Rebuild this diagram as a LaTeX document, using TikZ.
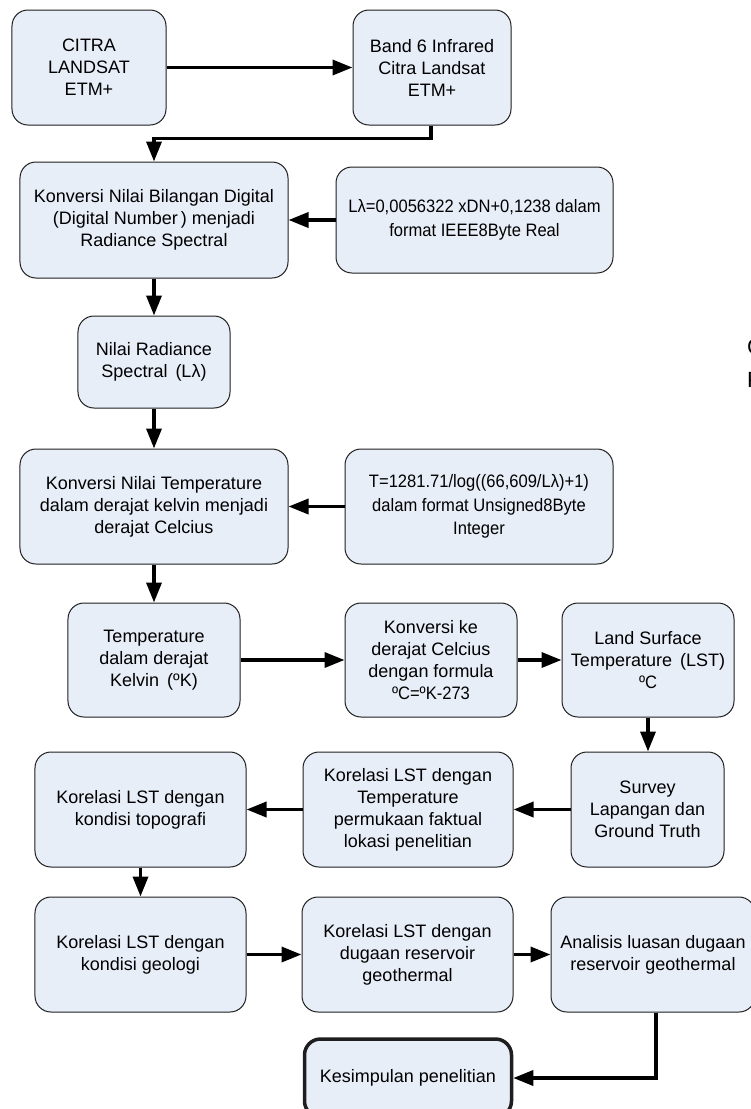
\documentclass[tikz,border=0pt]{standalone}
\usepackage{fontspec}
\setmainfont{Liberation Sans}
\newfontfamily\narrowf[FakeStretch=0.92]{Liberation Sans}
\usetikzlibrary{arrows.meta}
\definecolor{boxfill}{RGB}{232,238,248}
\definecolor{boxline}{RGB}{30,30,30}
\tikzset{
  flowbox/.style={draw=boxline, line width=1bp, fill=boxfill, rounded corners=16bp,
    align=center, inner sep=0pt, font=\fontsize{18bp}{22bp}\selectfont},
  formbox/.style={flowbox, font=\narrowf\fontsize{18bp}{23.5bp}\selectfont},
  endbox/.style={flowbox, line width=3.5bp},
  flowarrow/.style={line width=3.5bp, -{Triangle[length=20bp,width=15bp]}},
  cuttext/.style={anchor=base west, inner sep=0pt, font=\fontsize{22bp}{26bp}\selectfont}
}
\begin{document}
\begin{tikzpicture}[x=1bp,y=-1bp]
\useasboundingbox (0,0) rectangle (751,1109);
\clip (0,0) rectangle (751,1109);

% nodes
\node[flowbox, minimum width=154bp, minimum height=115bp] (citra) at (89,67.5) {CITRA\\LANDSAT\\ETM+};
\node[flowbox, minimum width=158bp, minimum height=115bp] (band) at (432,67.5) {Band 6 Infrared\\Citra Landsat\\ETM+};
\node[flowbox, minimum width=268bp, minimum height=116bp] (konv1) at (154,220) {Konversi Nilai Bilangan Digital\\(Digital Number\,) menjadi\\Radiance Spectral};
\node[formbox, minimum width=277bp, minimum height=106bp] (lamb) at (474.5,220) {Lλ=0,0056322 xDN+0,1238 dalam\\format IEEE8Byte Real};
\node[flowbox, minimum width=152bp, minimum height=92bp] (nilai) at (154,362) {Nilai Radiance\\Spectral \,(Lλ)};
\node[flowbox, minimum width=268bp, minimum height=115bp] (konv2) at (154,506.5) {Konversi Nilai Temperature\\dalam derajat kelvin menjadi\\derajat Celcius};
\node[formbox, minimum width=268bp, minimum height=115bp] (tform) at (479,506.5) {T=1281.71/log((66,609/Lλ)+1)\\dalam format Unsigned8Byte\\Integer};
\node[flowbox, minimum width=172bp, minimum height=114bp] (kelvin) at (154,660) {Temperature\\dalam derajat\\Kelvin \,(ºK)};
\node[flowbox, minimum width=172bp, minimum height=114bp] (konvke) at (431,660) {Konversi ke\\derajat Celcius\\dengan formula\\{\narrowf ºC=ºK-273}};
\node[flowbox, minimum width=172bp, minimum height=114bp] (lst) at (648,660) {Land Surface\\Temperature \,(LST)\\{\narrowf ºC}};
\node[flowbox, minimum width=153bp, minimum height=115bp] (survey) at (647.5,809.5) {Survey\\Lapangan dan\\Ground Truth};
\node[flowbox, minimum width=210bp, minimum height=115bp] (kortemp) at (408,809.5) {Korelasi LST dengan\\Temperature\\permukaan faktual\\lokasi penelitian};
\node[flowbox, minimum width=211bp, minimum height=115bp] (topo) at (140.5,809.5) {Korelasi LST dengan\\kondisi topografi};
\node[flowbox, minimum width=211bp, minimum height=115bp] (geo) at (140.5,954.5) {Korelasi LST dengan\\kondisi geologi};
\node[flowbox, minimum width=211bp, minimum height=115bp] (kordug) at (407.5,954.5) {Korelasi LST dengan\\dugaan reservoir\\geothermal};
\node[flowbox, minimum width=204bp, minimum height=115bp] (anal) at (653,954.5) {Analisis luasan dugaan\\reservoir geothermal};
\node[endbox, minimum width=207bp, minimum height=78bp] (kesim) at (408,1078) {Kesimpulan penelitian};

% partial text cut by the right edge
\node[cuttext] (cutc) at (747,354) {C};
\node[cuttext] (cutp) at (747,387) {P};

% connectors
\draw[flowarrow] (citra.east) -- (band.west);
\draw[flowarrow] ([xshift=-1bp]band.south) -- ++(0,13) -| (konv1.north);
\draw[flowarrow] (lamb.west) -- (konv1.east);
\draw[flowarrow] (konv1.south) -- (nilai.north);
\draw[flowarrow] (nilai.south) -- (konv2.north);
\draw[flowarrow] (tform.west) -- (konv2.east);
\draw[flowarrow] (konv2.south) -- (kelvin.north);
\draw[flowarrow] (kelvin.east) -- (konvke.west);
\draw[flowarrow] (konvke.east) -- (lst.west);
\draw[flowarrow] (lst.south) -- (lst.south |- survey.north);
\draw[flowarrow] (survey.west) -- (kortemp.east);
\draw[flowarrow] (kortemp.west) -- (topo.east);
\draw[flowarrow] (topo.south) -- (geo.north);
\draw[flowarrow] (geo.east) -- (kordug.west);
\draw[flowarrow] (kordug.east) -- (anal.west);
\draw[flowarrow] ([xshift=3bp]anal.south) |- (kesim.east);
\end{tikzpicture}
\end{document}
